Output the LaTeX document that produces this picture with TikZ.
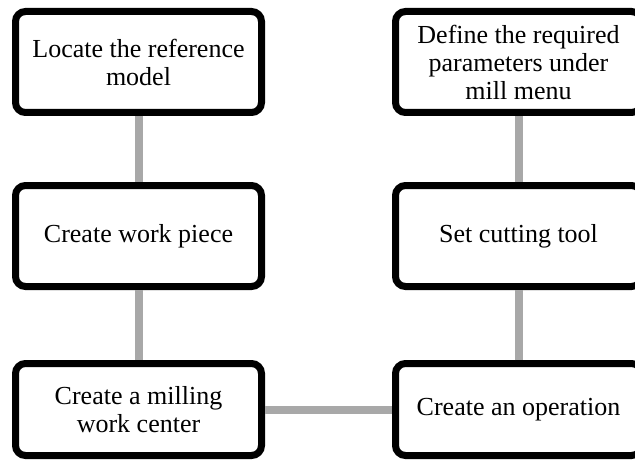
\documentclass[tikz,border=0pt]{standalone}
\usepackage{fontspec}
\setmainfont{Liberation Serif}
\usetikzlibrary{shadows}

\definecolor{linkgray}{HTML}{A8A8A8}

\tikzset{
    stepbox/.style={draw=black, fill=white, line width=7pt, rounded corners=10pt,
        minimum width=246pt, minimum height=101pt, align=center,
        font=\fontsize{26}{28}\selectfont,
        drop shadow={shadow xshift=2pt, shadow yshift=-3pt, opacity=0.2}},
    link/.style={draw=linkgray, line width=8pt}
}

\begin{document}
\begin{tikzpicture}[x=1pt, y=1pt]
    % Frame of the picture
    \useasboundingbox (0,0) rectangle (635,459);
    \clip (0,0) rectangle (635,459);
    % Left column
    \node[stepbox] (locate) at (138.5, 397) {Locate the reference\\model};
    \node[stepbox] (workpiece) at (138.5, 223) {Create work piece};
    \node[stepbox, minimum height=92pt] (center) at (138.5, 49.5) {Create a milling\\work center};
    % Right column
    \node[stepbox] (define) at (518.5, 397) {Define the required\\parameters under\\mill menu};
    \node[stepbox] (tool) at (518.5, 223) {Set cutting tool};
    \node[stepbox, minimum height=92pt] (operation) at (518.5, 49.5) {Create an operation};
    % Gray links between the steps
    \draw[link] (locate.south) -- (workpiece.north);
    \draw[link] (workpiece.south) -- (center.north);
    \draw[link] (center.east) -- (operation.west);
    \draw[link] (operation.north) -- (tool.south);
    \draw[link] (tool.north) -- (define.south);
\end{tikzpicture}
\end{document}
